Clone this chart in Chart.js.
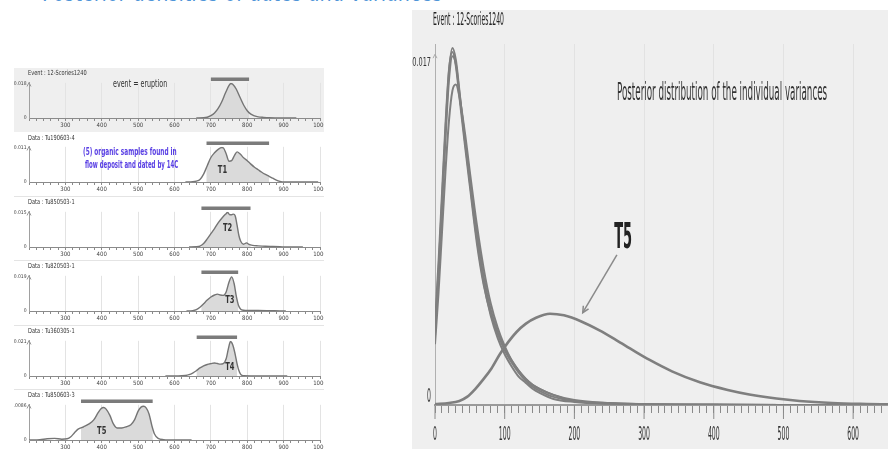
<!DOCTYPE html>
<html>
<head>
<meta charset="utf-8">
<title>12-Scories1240 – posterior densities</title>
<script src="https://cdn.jsdelivr.net/npm/chart.js@4.4.1/dist/chart.umd.min.js"></script>
<style>
body{margin:0;width:888px;height:449px;overflow:hidden;background:#fff;position:relative;font-family:"Liberation Sans Narrow","DejaVu Sans Condensed",sans-serif;}
.box{position:absolute;overflow:hidden;}
.line{position:absolute;height:1px;background:#e4e4e4;}
.txt{position:absolute;white-space:nowrap;transform-origin:0 0;line-height:1;}
canvas{position:absolute;left:0;top:0;}
</style>
</head>
<body>
<div class="box" id="right" style="left:412px;top:10px;width:476px;height:439px;background:#efefef">
  <canvas id="varChart" width="476" height="439"></canvas>
</div>
<script>
/* =========================================
   12-Scories1240 : calendar dates (left)
   and individual variances (right)
========================================= */

// ---------------- Data : dated samples ----------------

const panelNames = ["Event : 12-Scories1240", "Data : Tu190603-4", "Data : Tu850503-1", "Data : Tu820503-1", "Data : Tu360305-1", "Data : Tu850603-3"];
const panelTags = ["", "T1", "T2", "T3", "T4", "T5"];
const panelMax = [0.018, 0.011, 0.015, 0.019, 0.021, 0.0086];
const panelMaxLabels = ["0.018", "0.011", "0.015", "0.019", "0.021", "0.0086"];
const hpdFrom = [700, 688, 674, 674, 661, 343];
const hpdTo = [805, 860, 809, 775, 772, 540];
const dateTickLabels = [300, 400, 500, 600, 700, 800, 900, 1000];

const eventX = [660, 680, 690, 700, 710, 720, 730, 740, 750, 755, 760, 770, 780, 790, 800, 810, 820, 830, 845, 860, 900, 935];
const eventY = [0, 0.0001, 0.0004, 0.0012, 0.0026, 0.0050, 0.0085, 0.0130, 0.0170, 0.0180, 0.0176, 0.0150, 0.0108, 0.0068, 0.0038, 0.0020, 0.0011, 0.0006, 0.0003, 0.0001, 0, 0];

const t1X = [630, 650, 660, 670, 680, 690, 700, 710, 720, 730, 735, 742, 750, 757, 765, 772, 780, 790, 800, 810, 820, 830, 840, 850, 860, 870, 880, 890, 900, 995];
const t1Y = [0, 0.0001, 0.0003, 0.0008, 0.0025, 0.0052, 0.0078, 0.0093, 0.0104, 0.0110, 0.0108, 0.0090, 0.0066, 0.0068, 0.0085, 0.0096, 0.0090, 0.0077, 0.0068, 0.0057, 0.0047, 0.0039, 0.0031, 0.0024, 0.0018, 0.0012, 0.0006, 0.0002, 0, 0];

const t2X = [640, 660, 670, 680, 690, 700, 710, 720, 730, 740, 746, 752, 757, 762, 767, 772, 777, 782, 790, 798, 805, 815, 830, 850, 870, 890, 910, 953];
const t2Y = [0, 0.0001, 0.0004, 0.0015, 0.0035, 0.0058, 0.0080, 0.0105, 0.0125, 0.0142, 0.0150, 0.0140, 0.0140, 0.0143, 0.0135, 0.0095, 0.0050, 0.0025, 0.0012, 0.0018, 0.0011, 0.0007, 0.0005, 0.0003, 0.0002, 0.0001, 0, 0];

const t3X = [633, 650, 660, 670, 680, 690, 700, 710, 718, 726, 734, 742, 750, 757, 764, 770, 776, 782, 790, 800, 830, 860, 900, 906];
const t3Y = [0, 0.0002, 0.0008, 0.0021, 0.0040, 0.0060, 0.0077, 0.0088, 0.0093, 0.0088, 0.0086, 0.0105, 0.0160, 0.0188, 0.0150, 0.0080, 0.0030, 0.0010, 0.0004, 0.0003, 0.0003, 0.0002, 0, 0];

const t4X = [575, 610, 630, 640, 650, 660, 670, 680, 690, 700, 710, 718, 726, 734, 742, 748, 754, 760, 766, 771, 776, 782, 790, 810, 860, 910];
const t4Y = [0, 0, 0.0003, 0.0008, 0.0018, 0.0032, 0.0049, 0.0062, 0.0070, 0.0075, 0.0079, 0.0076, 0.0072, 0.0075, 0.0105, 0.0165, 0.0210, 0.0190, 0.0140, 0.0085, 0.0040, 0.0010, 0.0002, 0.0001, 0.0001, 0];

const t5X = [200, 230, 250, 270, 290, 305, 315, 325, 335, 350, 365, 378, 390, 398, 405, 412, 422, 432, 442, 455, 468, 480, 490, 500, 508, 515, 522, 530, 538, 545, 555, 570, 600, 647];
const t5Y = [0, 0.0001, 0.0003, 0.0004, 0.0002, 0.0003, 0.0008, 0.0018, 0.0027, 0.0033, 0.0040, 0.0050, 0.0068, 0.0078, 0.0081, 0.0077, 0.0062, 0.0040, 0.0030, 0.0030, 0.0033, 0.0038, 0.0050, 0.0072, 0.0082, 0.0084, 0.0080, 0.0065, 0.0035, 0.0015, 0.0004, 0.0001, 0, 0];

const panelX = [eventX, t1X, t2X, t3X, t4X, t5X];
const panelY = [eventY, t1Y, t2Y, t3Y, t4Y, t5Y];

// tag label spot : date, share of the panel max
const tagX = [0, 732, 746, 752, 752, 400];
const tagY = [0, 0.33, 0.54, 0.32, 0.24, 0.24];

// ---------------- Data : individual variances ----------------

const varTickLabels = [0, 100, 200, 300, 400, 500, 600];
const varX = [0, 5, 10, 15, 20, 25, 30, 35, 43, 50, 60, 70, 80, 90, 100, 110, 120, 130, 140, 150, 170, 200, 250, 300, 400, 500, 650];
const varT1 = [0.0036, 0.0066, 0.0100, 0.0135, 0.0164, 0.0176, 0.0170, 0.0155, 0.0130, 0.0110, 0.0082, 0.0060, 0.0044, 0.0033, 0.0025, 0.0019, 0.0014, 0.0011, 0.0008, 0.0006, 0.0003, 0.00015, 0.00006, 0.00003, 0.00001, 0, 0];
const varT2 = [0.0040, 0.0070, 0.0104, 0.0138, 0.0165, 0.0174, 0.0167, 0.0152, 0.0128, 0.0108, 0.0080, 0.0059, 0.0045, 0.0035, 0.0027, 0.0021, 0.0016, 0.0012, 0.0009, 0.0007, 0.0004, 0.0002, 0.00008, 0.00004, 0.00001, 0, 0];
const varT3 = [0.0034, 0.0063, 0.0097, 0.0131, 0.0160, 0.0172, 0.0168, 0.0154, 0.0131, 0.0112, 0.0085, 0.0063, 0.0047, 0.0036, 0.0028, 0.0022, 0.0017, 0.0013, 0.0010, 0.0008, 0.0005, 0.00025, 0.0001, 0.00005, 0.00002, 0, 0];
const varT4 = [0.0030, 0.0055, 0.0085, 0.0115, 0.0140, 0.0155, 0.0158, 0.0152, 0.0134, 0.0115, 0.0089, 0.0067, 0.0050, 0.0038, 0.0029, 0.0022, 0.0017, 0.0013, 0.0010, 0.0008, 0.0005, 0.0002, 0.0001, 0.00004, 0.00001, 0, 0];
const varT5X = [0, 20, 35, 46, 58, 69, 81, 93, 105, 117, 130, 145, 165, 185, 210, 236, 260, 285, 308, 340, 380, 420, 451, 490, 523, 570, 620, 650];
const varT5Y = [0.00005, 0.0001, 0.0002, 0.0004, 0.0008, 0.00125, 0.0018, 0.0025, 0.0031, 0.0036, 0.0040, 0.0043, 0.0045, 0.00442, 0.00412, 0.00368, 0.0032, 0.00268, 0.00222, 0.00166, 0.00112, 0.00074, 0.00052, 0.00032, 0.0002, 0.0001, 0.00005, 0.00003];

// T5 annotation in data units
const t5TagAt = [270, 0.0082];
const t5ArrowFrom = [261, 0.0074];
const t5ArrowTo = [212, 0.00455];

// ---------------- Helpers ----------------

const narrowFont = '"Liberation Sans Narrow", "DejaVu Sans Condensed", sans-serif';
const toPoints = (xs, ys) => xs.map((v, k) => ({x: v, y: ys[k]}));

function addText(text, x, y, size, opts) {
    const el = document.createElement("div");
    el.className = "txt";
    el.textContent = text;
    el.style.fontSize = size + "px";
    el.style.color = opts.color || "#333";
    if (opts.bold) el.style.fontWeight = "bold";
    document.body.appendChild(el);
    const sx = opts.width ? opts.width / el.offsetWidth : (opts.sx || 1);
    el.style.left = x + "px";
    el.style.top = (y - size * 0.55) + "px";
    el.style.transform = "scaleX(" + sx + ")";
}

function drawNarrow(ctx, text, x, y, size, sx, align, bold) {
    ctx.save();
    ctx.translate(x, y);
    ctx.scale(sx, 1);
    ctx.font = (bold ? "bold " : "") + size + "px " + narrowFont;
    ctx.textAlign = align || "center";
    ctx.textBaseline = "middle";
    ctx.fillText(text, 0, 0);
    ctx.restore();
}

function axisArrow(ctx, x, y) {
    ctx.beginPath();
    ctx.moveTo(x - 2, y + 4);
    ctx.lineTo(x, y);
    ctx.lineTo(x + 2, y + 4);
    ctx.stroke();
}

// ---------------- Heading (cut at the top) ----------------

addText("Posterior densities of dates and variances", 42, -7.8, 30, {color: "#4f95d8", width: 400});

// ---------------- Left : dated samples ----------------

const leftTop = 68;
const leftStep = 64.4;

const panelExtras = {
    id: "panelExtras",
    beforeDatasetsDraw(chart, args, opts) {
        const i = opts.index;
        const {ctx, chartArea, scales: {x, y}} = chart;
        const meta = chart.getDatasetMeta(0);
        const line = meta.dataset;
        const pts = meta.data;
        line.updateControlPoints(chartArea, "x");
        const x0 = x.getPixelForValue(hpdFrom[i]);
        const x1 = x.getPixelForValue(hpdTo[i]);
        const base = y.getPixelForValue(0);
        ctx.save();
        ctx.beginPath();
        ctx.rect(x0, chartArea.top - 10, x1 - x0, base - chartArea.top + 10);
        ctx.clip();
        ctx.beginPath();
        line.path(ctx);
        ctx.lineTo(pts[pts.length - 1].x, base);
        ctx.lineTo(pts[0].x, base);
        ctx.closePath();
        ctx.fillStyle = "#dadada";
        ctx.fill();
        ctx.restore();
    },
    afterDatasetsDraw(chart, args, opts) {
        const i = opts.index;
        const {ctx, chartArea, scales: {x, y}} = chart;
        ctx.fillStyle = "#333";
        if (panelTags[i]) {
            drawNarrow(ctx, panelTags[i], x.getPixelForValue(tagX[i]), y.getPixelForValue(tagY[i] * panelMax[i]), 10, 0.75, "center", true);
        }
        ctx.strokeStyle = "#999";
        ctx.lineWidth = 1;
        axisArrow(ctx, chartArea.left, y.getPixelForValue(panelMax[i]) - 1);
    }
};

panelNames.forEach((name, i) => {

    const top = leftTop + i * leftStep;

    const box = document.createElement("div");
    box.className = "box";
    box.style.cssText = "left:14px;top:" + top + "px;width:310px;height:64px;background:" + (i === 0 ? "#efefef" : "#fff");
    const canvas = document.createElement("canvas");
    canvas.width = 310;
    canvas.height = 64;
    box.appendChild(canvas);
    document.body.appendChild(box);

    if (i > 1) {
        const sep = document.createElement("div");
        sep.className = "line";
        sep.style.cssText = "left:14px;width:310px;top:" + (top - 1) + "px";
        document.body.appendChild(sep);
    }

    new Chart(canvas, {
        type: "line",
        data: {
            datasets: [
                {
                    label: name,
                    data: toPoints(panelX[i], panelY[i]),
                    borderColor: "#757575",
                    borderWidth: 1.4,
                    pointRadius: 0,
                    fill: false,
                    cubicInterpolationMode: "monotone"
                },
                {
                    label: "HPD",
                    data: [{x: hpdFrom[i], y: panelMax[i] * 1.12}, {x: hpdTo[i], y: panelMax[i] * 1.12}],
                    borderColor: "#7b7b7b",
                    borderWidth: 3.5,
                    pointRadius: 0,
                    fill: false,
                    clip: false
                }
            ]
        },
        options: {
            responsive: false,
            animation: false,
            events: [],
            layout: {padding: {top: 14.8, right: 4, bottom: 0, left: 0}},
            plugins: {legend: {display: false}, tooltip: {enabled: false}, panelExtras: {index: i}},
            scales: {
                x: {
                    type: "linear",
                    min: 200,
                    max: 1000,
                    ticks: {
                        stepSize: 20,
                        autoSkip: false,
                        maxRotation: 0,
                        padding: 1,
                        color: "#444",
                        font: {size: 6, family: narrowFont},
                        callback: v => dateTickLabels.includes(v) ? v : ""
                    },
                    grid: {
                        color: c => c.tick && c.tick.value % 100 === 0 && c.tick.value > 200 ? "#e3e3e3" : "rgba(0,0,0,0)",
                        tickColor: "#8a8a8a",
                        tickLength: 3
                    },
                    border: {color: "#8a8a8a"},
                    afterFit: s => { s.height = 14; s.paddingLeft = 0; s.paddingRight = 0; }
                },
                y: {
                    min: 0,
                    max: panelMax[i] * 1.02,
                    afterBuildTicks: s => { s.ticks = [{value: 0}, {value: panelMax[i]}]; },
                    ticks: {
                        padding: 2.5,
                        color: "#444",
                        font: {size: 5, family: narrowFont},
                        callback: (v, k) => k === 0 ? "0" : panelMaxLabels[i]
                    },
                    grid: {display: false, drawTicks: false, tickLength: 0},
                    border: {color: "#a0a0a0"},
                    afterFit: s => { s.width = 15; s.paddingTop = 0; s.paddingBottom = 0; }
                }
            }
        },
        plugins: [panelExtras]
    });

    addText(name, 28, top + 6, 7, {sx: 0.8, color: "#333"});
});

addText("event = eruption", 113, 84, 11, {width: 54, color: "#333"});
addText("(5) organic samples found in", 83, 152.7, 10, {width: 94, bold: true, color: "#5a40e4"});
addText("flow deposit and dated by 14C", 85, 165, 10, {width: 93, bold: true, color: "#5a40e4"});

// ---------------- Right : individual variances ----------------

const varExtras = {
    id: "varExtras",
    afterDraw(chart) {
        const {ctx, chartArea, scales: {x, y}} = chart;
        ctx.strokeStyle = "#8a8a8a";
        ctx.fillStyle = "#333";
        ctx.lineWidth = 1;
        varTickLabels.forEach(v => {
            const px = x.getPixelForValue(v);
            ctx.beginPath();
            ctx.moveTo(px, chartArea.bottom);
            ctx.lineTo(px, chartArea.bottom + 14);
            ctx.stroke();
            drawNarrow(ctx, String(v), px, chartArea.bottom + 30, 19, 0.36, "center");
        });
        drawNarrow(ctx, "0.017", chartArea.left - 4, y.getPixelForValue(0.017) + 2, 13, 0.56, "right");
        drawNarrow(ctx, "0", chartArea.left - 4, y.getPixelForValue(0) - 8, 19, 0.36, "right");
        ctx.strokeStyle = "#aaa";
        axisArrow(ctx, chartArea.left, y.getPixelForValue(0.017) - 6);

        // T5 annotation
        ctx.strokeStyle = "#8a8a8a";
        ctx.lineWidth = 1.5;
        const ax0 = x.getPixelForValue(t5ArrowFrom[0]), ay0 = y.getPixelForValue(t5ArrowFrom[1]);
        const ax1 = x.getPixelForValue(t5ArrowTo[0]), ay1 = y.getPixelForValue(t5ArrowTo[1]);
        ctx.beginPath();
        ctx.moveTo(ax0, ay0);
        ctx.lineTo(ax1, ay1);
        ctx.stroke();
        const ang = Math.atan2(ay1 - ay0, ax1 - ax0);
        ctx.beginPath();
        ctx.moveTo(ax1 - 7 * Math.cos(ang - 0.45), ay1 - 7 * Math.sin(ang - 0.45));
        ctx.lineTo(ax1, ay1);
        ctx.lineTo(ax1 - 7 * Math.cos(ang + 0.45), ay1 - 7 * Math.sin(ang + 0.45));
        ctx.stroke();
        ctx.fillStyle = "#222";
        drawNarrow(ctx, "T5", x.getPixelForValue(t5TagAt[0]), y.getPixelForValue(t5TagAt[1]), 36, 0.4, "center", true);
    }
};

const varLine = (label, xs, ys, width) => ({
    label: label,
    data: toPoints(xs, ys),
    borderColor: "#7f7f7f",
    borderWidth: width,
    pointRadius: 0,
    fill: false,
    cubicInterpolationMode: "monotone"
});

new Chart(document.getElementById("varChart"), {
    type: "line",
    data: {
        datasets: [
            varLine("T1", varX, varT1, 2),
            varLine("T2", varX, varT2, 2),
            varLine("T3", varX, varT3, 2),
            varLine("T4", varX, varT4, 2),
            varLine("T5", varT5X, varT5Y, 2.6)
        ]
    },
    options: {
        responsive: false,
        animation: false,
        events: [],
        layout: {padding: {top: 34, right: 0, bottom: 0, left: 0}},
        plugins: {legend: {display: false}, tooltip: {enabled: false}},
        scales: {
            x: {
                type: "linear",
                min: 0,
                max: 650,
                ticks: {stepSize: 10, autoSkip: false, maxRotation: 0, display: false},
                grid: {
                    color: c => c.tick && c.tick.value % 100 === 0 && c.tick.value > 0 ? "#e2e2e2" : "rgba(0,0,0,0)",
                    tickColor: "#8a8a8a",
                    tickLength: 8
                },
                border: {color: "#9a9a9a", width: 2},
                afterFit: s => { s.height = 44; s.paddingLeft = 0; s.paddingRight = 0; }
            },
            y: {
                min: 0,
                max: 0.0178,
                afterBuildTicks: s => { s.ticks = [{value: 0}, {value: 0.017}]; },
                ticks: {display: false},
                grid: {display: false},
                border: {color: "#b0b0b0"},
                afterFit: s => { s.width = 23; s.paddingTop = 0; s.paddingBottom = 0; }
            }
        }
    },
    plugins: [varExtras]
});

addText("Event : 12-Scories1240", 433, 20, 17, {width: 71, color: "#222"});
addText("Posterior distribution of the individual variances", 617, 93, 25, {width: 210, color: "#333"});
</script>
</body>
</html>
